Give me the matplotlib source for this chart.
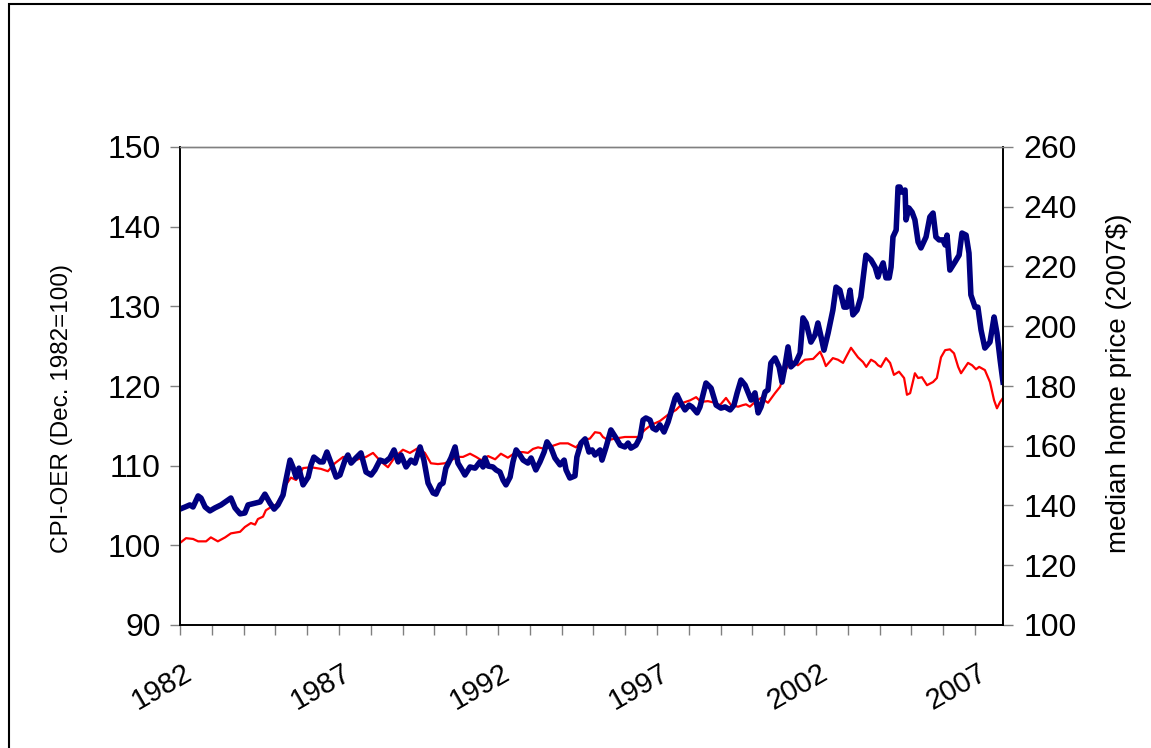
import matplotlib
matplotlib.use("Agg")
import matplotlib.pyplot as plt
import matplotlib.transforms as mtransforms
from matplotlib.patches import Rectangle

plt.rcParams["font.family"] = ["Liberation Sans", "DejaVu Sans"]

# CPI owners' equivalent rent, real (Dec. 1982 = 100), left axis
cpi_years = [
    1982.00, 1982.19, 1982.41, 1982.57, 1982.82, 1982.97, 1983.19, 1983.42, 1983.60, 1983.89,
    1984.04, 1984.23, 1984.36, 1984.45, 1984.61, 1984.70, 1984.86, 1985.02, 1985.18, 1985.33,
    1985.49, 1985.65, 1985.87, 1986.12, 1986.43, 1986.65, 1986.87, 1987.13, 1987.38, 1987.60,
    1987.85, 1988.07, 1988.32, 1988.54, 1988.76, 1989.01, 1989.23, 1989.48, 1989.70, 1989.89,
    1990.11, 1990.33, 1990.52, 1990.74, 1990.90, 1991.12, 1991.31, 1991.47, 1991.69, 1991.91,
    1992.09, 1992.31, 1992.57, 1992.79, 1992.94, 1993.10, 1993.26, 1993.48, 1993.73, 1993.95,
    1994.20, 1994.45, 1994.67, 1994.89, 1995.05, 1995.21, 1995.30, 1995.46, 1995.68, 1995.99,
    1996.18, 1996.40, 1996.62, 1996.81, 1997.09, 1997.35, 1997.60, 1997.82, 1998.04, 1998.23,
    1998.38, 1998.60, 1998.82, 1998.98, 1999.17, 1999.33, 1999.55, 1999.70, 1999.80, 1999.92,
    2000.08, 2000.27, 2000.49, 2000.71, 2000.87, 2000.96, 2001.18, 2001.43, 2001.65, 2001.91,
    2002.13, 2002.22, 2002.31, 2002.53, 2002.69, 2002.85, 2002.94, 2003.10, 2003.32, 2003.48,
    2003.58, 2003.73, 2003.86, 2003.95, 2004.04, 2004.20, 2004.33, 2004.45, 2004.61, 2004.77,
    2004.86, 2004.96, 2005.11, 2005.21, 2005.33, 2005.49, 2005.68, 2005.80, 2005.93, 2006.06,
    2006.21, 2006.34, 2006.47, 2006.56, 2006.78, 2006.91, 2007.03, 2007.13, 2007.31, 2007.47,
    2007.60, 2007.69, 2007.79, 2007.88,
]
cpi_oer = [
    100.3, 100.9, 100.8, 100.5, 100.5, 101.0, 100.5, 101.0, 101.5, 101.7,
    102.3, 102.8, 102.6, 103.3, 103.6, 104.4, 104.8, 105.1, 106.1, 107.6,
    108.5, 108.2, 109.7, 109.8, 109.6, 109.3, 110.3, 111.1, 110.5, 110.8,
    111.1, 111.6, 110.5, 109.8, 111.1, 112.0, 111.6, 112.2, 111.6, 110.3,
    110.2, 110.3, 110.7, 111.1, 111.1, 111.5, 111.1, 110.7, 111.2, 110.8,
    111.5, 111.0, 111.7, 111.7, 111.6, 112.1, 112.3, 112.1, 112.5, 112.8,
    112.8, 112.3, 113.2, 113.4, 114.2, 114.1, 113.6, 113.2, 113.4, 113.6,
    113.6, 113.6, 114.5, 115.1, 115.6, 116.4, 117.0, 117.9, 118.2, 118.6,
    118.0, 118.1, 117.9, 117.6, 118.5, 117.6, 117.4, 117.6, 117.7, 117.4,
    118.0, 118.5, 117.9, 119.1, 119.9, 121.1, 123.3, 122.6, 123.3, 123.4,
    124.3, 123.5, 122.5, 123.5, 123.3, 122.9, 123.6, 124.8, 123.6, 123.0,
    122.4, 123.3, 123.0, 122.6, 122.4, 123.5, 122.9, 121.4, 121.8, 121.0,
    118.9, 119.1, 121.6, 121.0, 121.1, 120.1, 120.5, 121.0, 123.6, 124.5,
    124.6, 124.1, 122.4, 121.6, 122.9, 122.6, 122.1, 122.4, 122.0, 120.5,
    118.2, 117.2, 118.0, 118.5,
]

# median home price in 2007 dollars (thousands), right axis
price_years = [
    1982.00, 1982.16, 1982.31, 1982.41, 1982.57, 1982.66, 1982.79, 1982.94, 1983.10, 1983.29,
    1983.60, 1983.73, 1983.89, 1984.04, 1984.14, 1984.36, 1984.52, 1984.67, 1984.83, 1984.96,
    1985.08, 1985.24, 1985.30, 1985.46, 1985.55, 1985.65, 1985.74, 1985.87, 1986.03, 1986.12,
    1986.21, 1986.40, 1986.50, 1986.62, 1986.75, 1986.91, 1987.03, 1987.19, 1987.28, 1987.38,
    1987.53, 1987.69, 1987.85, 1988.01, 1988.13, 1988.29, 1988.45, 1988.60, 1988.73, 1988.86,
    1988.95, 1989.11, 1989.26, 1989.39, 1989.55, 1989.67, 1989.80, 1989.96, 1990.05, 1990.18,
    1990.27, 1990.36, 1990.52, 1990.65, 1990.74, 1990.87, 1990.96, 1991.12, 1991.28, 1991.43,
    1991.53, 1991.59, 1991.69, 1991.84, 1991.94, 1992.06, 1992.16, 1992.25, 1992.38, 1992.47,
    1992.57, 1992.69, 1992.79, 1992.94, 1993.04, 1993.19, 1993.32, 1993.45, 1993.54, 1993.67,
    1993.79, 1993.95, 1994.08, 1994.14, 1994.26, 1994.42, 1994.48, 1994.61, 1994.74, 1994.86,
    1994.96, 1995.05, 1995.21, 1995.27, 1995.40, 1995.55, 1995.71, 1995.84, 1995.99, 1996.09,
    1996.18, 1996.34, 1996.47, 1996.56, 1996.65, 1996.78, 1996.87, 1996.97, 1997.09, 1997.22,
    1997.35, 1997.44, 1997.57, 1997.63, 1997.75, 1997.88, 1998.01, 1998.10, 1998.26, 1998.35,
    1998.42, 1998.54, 1998.70, 1998.86, 1999.01, 1999.14, 1999.30, 1999.42, 1999.52, 1999.64,
    1999.77, 1999.87, 1999.96, 2000.08, 2000.18, 2000.27, 2000.40, 2000.49, 2000.58, 2000.71,
    2000.84, 2000.93, 2001.02, 2001.12, 2001.21, 2001.37, 2001.50, 2001.59, 2001.69, 2001.84,
    2001.97, 2002.06, 2002.16, 2002.25, 2002.38, 2002.53, 2002.63, 2002.75, 2002.88, 2002.97,
    2003.07, 2003.16, 2003.29, 2003.41, 2003.57, 2003.73, 2003.86, 2003.95, 2004.01, 2004.11,
    2004.20, 2004.30, 2004.36, 2004.42, 2004.52, 2004.58, 2004.64, 2004.70, 2004.80, 2004.83,
    2004.92, 2005.02, 2005.11, 2005.21, 2005.30, 2005.46, 2005.58, 2005.68, 2005.77, 2005.87,
    2005.99, 2006.06, 2006.12, 2006.21, 2006.37, 2006.50, 2006.59, 2006.72, 2006.81, 2006.87,
    2007.00, 2007.09, 2007.19, 2007.31, 2007.47, 2007.60, 2007.69, 2007.79, 2007.88,
]
home_price = [
    138.8, 139.5, 140.2, 139.5, 143.2, 142.5, 139.5, 138.2, 139.2, 140.2,
    142.5, 139.2, 137.2, 137.5, 140.2, 140.8, 141.2, 143.8, 140.8, 138.8,
    140.2, 143.5, 146.9, 155.2, 152.9, 149.5, 152.5, 146.9, 149.5, 153.6,
    156.2, 154.6, 154.6, 157.9, 154.2, 149.5, 150.2, 155.2, 156.9, 154.2,
    155.9, 157.6, 151.2, 150.2, 151.9, 155.2, 154.6, 155.9, 158.6, 154.6,
    156.9, 152.9, 155.2, 154.2, 159.6, 155.2, 147.5, 144.2, 143.8, 146.9,
    147.5, 152.5, 155.9, 159.6, 154.2, 151.9, 150.2, 152.9, 152.5, 154.6,
    152.9, 155.9, 153.2, 152.9, 151.9, 151.2, 148.5, 146.9, 149.5, 154.6,
    158.6, 156.9, 155.2, 154.2, 155.9, 151.9, 154.6, 157.9, 161.3, 159.2,
    155.9, 153.6, 155.2, 151.9, 149.2, 149.9, 156.2, 160.9, 162.3, 157.9,
    158.6, 156.9, 158.6, 155.2, 159.6, 165.3, 162.6, 160.2, 159.6, 160.9,
    159.2, 160.2, 162.9, 168.6, 169.3, 168.6, 165.9, 165.3, 167.0, 164.6,
    168.0, 171.3, 176.0, 177.0, 174.3, 172.0, 173.6, 173.0, 171.0, 173.0,
    176.0, 181.0, 179.3, 173.6, 172.6, 173.0, 172.0, 173.6, 177.7, 182.0,
    180.3, 177.7, 175.3, 177.7, 171.0, 173.0, 178.0, 178.7, 187.7, 189.4,
    186.4, 181.3, 186.4, 193.1, 186.4, 188.0, 191.0, 202.8, 201.1, 194.7,
    197.1, 201.1, 196.4, 192.0, 197.7, 205.4, 213.1, 212.1, 206.4, 206.4,
    212.1, 203.8, 205.4, 209.8, 223.8, 222.2, 219.8, 216.5, 218.8, 221.2,
    216.2, 216.2, 219.8, 229.9, 232.2, 246.6, 246.6, 244.9, 245.6, 235.6,
    239.6, 238.2, 235.6, 228.2, 226.2, 229.9, 236.6, 237.9, 229.9, 228.9,
    228.9, 227.2, 230.5, 218.8, 221.5, 223.8, 231.2, 230.5, 224.5, 210.5,
    206.4, 206.4, 198.7, 192.7, 194.7, 203.1, 197.7, 188.7, 181.3,
]

label_years = [1982, 1987, 1992, 1997, 2002, 2007]

W, H = 1151, 748
fig = plt.figure(figsize=(W / 100, H / 100), dpi=100)
ax = fig.add_axes([180 / W, (H - 625) / H, 823 / W, 478 / H])
ax2 = ax.twinx()

ax.plot(cpi_years, cpi_oer, color="#ff0000", lw=1.6, solid_joinstyle="round")
ax2.plot(price_years, home_price, color="#000080", lw=4.0, solid_joinstyle="round")

ax.set_xlim(1982, 2007.88)
ax.set_ylim(90, 150)
ax2.set_ylim(100, 260)
ax.set_yticks(range(90, 151, 10))
ax2.set_yticks(range(100, 261, 20))

ax.set_xticks(range(1982, 2008))
ax.set_xticklabels([str(y) if y in label_years else "" for y in range(1982, 2008)])

tick_col = "#808080"
for a in (ax, ax2):
    a.tick_params(direction="out", length=7, width=1, color=tick_col, labelsize=23)
    for side in ("left", "right", "bottom"):
        a.spines[side].set_color("black")
        a.spines[side].set_linewidth(1.2)
    a.spines["top"].set_color(tick_col)
    a.spines["top"].set_linewidth(1)
ax.tick_params(axis="y", pad=7)
ax2.tick_params(axis="y", pad=8)
ax.tick_params(axis="x", pad=26, labelsize=21)

offset = mtransforms.ScaledTranslation(10 / 100, 0, fig.dpi_scale_trans)
for lab in ax.get_xticklabels():
    lab.set_rotation(30)
    lab.set_ha("right")
    lab.set_va("center")
    lab.set_rotation_mode("anchor")
    lab.set_transform(lab.get_transform() + offset)

ax.set_ylabel("CPI-OER (Dec. 1982=100)", fontsize=17.5)
ax.yaxis.set_label_coords(-0.13, 0.453)
ax2.set_ylabel("median home price (2007$)", fontsize=20)
ax2.yaxis.set_label_coords(1.125, 0.505)

# outer chart border
fig.add_artist(Rectangle((9 / W, -0.01), 1.02, (H - 4) / H + 0.01,
                         transform=fig.transFigure, fill=False, ec="black", lw=1.5))

fig.savefig("out.png", dpi=100)
